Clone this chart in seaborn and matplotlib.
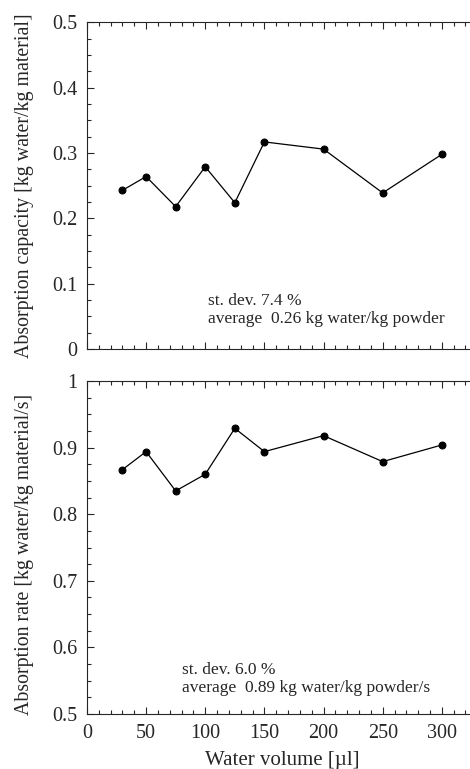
import matplotlib
matplotlib.use("Agg")
import matplotlib.pyplot as plt
import pandas as pd
import seaborn as sns
from matplotlib.ticker import MultipleLocator, FuncFormatter

water_volume = [30, 50, 75, 100, 125, 150, 200, 250, 300]
absorption_capacity = [0.243, 0.264, 0.218, 0.279, 0.224, 0.317, 0.306, 0.239, 0.298]
absorption_rate = [0.867, 0.894, 0.835, 0.860, 0.929, 0.894, 0.918, 0.879, 0.904]

df = pd.DataFrame({
    "volume": water_volume,
    "capacity": absorption_capacity,
    "rate": absorption_rate,
})

sns.set_style("ticks")
plt.rcParams["font.family"] = ["Liberation Serif", "DejaVu Serif"]

fig = plt.figure(figsize=(4.7, 7.69), dpi=100)
ax_top = fig.add_axes([0.185, 0.546, 0.818, 0.425])
ax_bot = fig.add_axes([0.185, 0.0715, 0.818, 0.433])

line_kw = dict(color="black", marker="o", markersize=5, markeredgecolor="black",
               linewidth=0.9, estimator=None)
sns.lineplot(data=df, x="volume", y="capacity", ax=ax_top, **line_kw)
sns.lineplot(data=df, x="volume", y="rate", ax=ax_bot, **line_kw)

gfmt = FuncFormatter(lambda v, p: f"{v:g}")
for ax in (ax_top, ax_bot):
    ax.set_xlim(0, 325)
    ax.xaxis.set_major_locator(MultipleLocator(50))
    ax.xaxis.set_minor_locator(MultipleLocator(10))
    ax.yaxis.set_major_locator(MultipleLocator(0.1))
    ax.yaxis.set_minor_locator(MultipleLocator(0.025))
    ax.yaxis.set_major_formatter(gfmt)
    ax.tick_params(which="both", direction="in", top=True, right=False, labelsize=14.5,
                   width=0.8, pad=7)
    ax.tick_params(which="major", length=5)
    ax.tick_params(which="minor", length=3)
    for side in ("left", "bottom", "top"):
        ax.spines[side].set_linewidth(0.8)
        ax.spines[side].set_visible(True)
    ax.spines["right"].set_visible(False)

ax_top.set_ylim(0, 0.5)
ax_bot.set_ylim(0.5, 1.0)
ax_top.tick_params(labelbottom=False)

ax_top.set_xlabel("")
ax_top.set_ylabel("Absorption capacity [kg water/kg material]", fontsize=14.3)
ax_bot.set_ylabel("Absorption rate [kg water/kg material/s]", fontsize=14.3)
ax_bot.set_xlabel("Water volume [\u00b5l]", fontsize=15)
ax_top.yaxis.set_label_coords(-0.137, 0.5)
ax_bot.yaxis.set_label_coords(-0.137, 0.48)
ax_bot.xaxis.set_label_coords(0.507, -0.11)

ann = 12.5
ax_top.text(102, 0.067, "st. dev. 7.4 %", fontsize=ann, va="baseline")
ax_top.text(102, 0.040, "average  0.26 kg water/kg powder", fontsize=ann, va="baseline")
ax_bot.text(80, 0.560, "st. dev. 6.0 %", fontsize=ann, va="baseline")
ax_bot.text(80, 0.533, "average  0.89 kg water/kg powder/s", fontsize=ann, va="baseline")

fig.savefig("out.png", dpi=100)
